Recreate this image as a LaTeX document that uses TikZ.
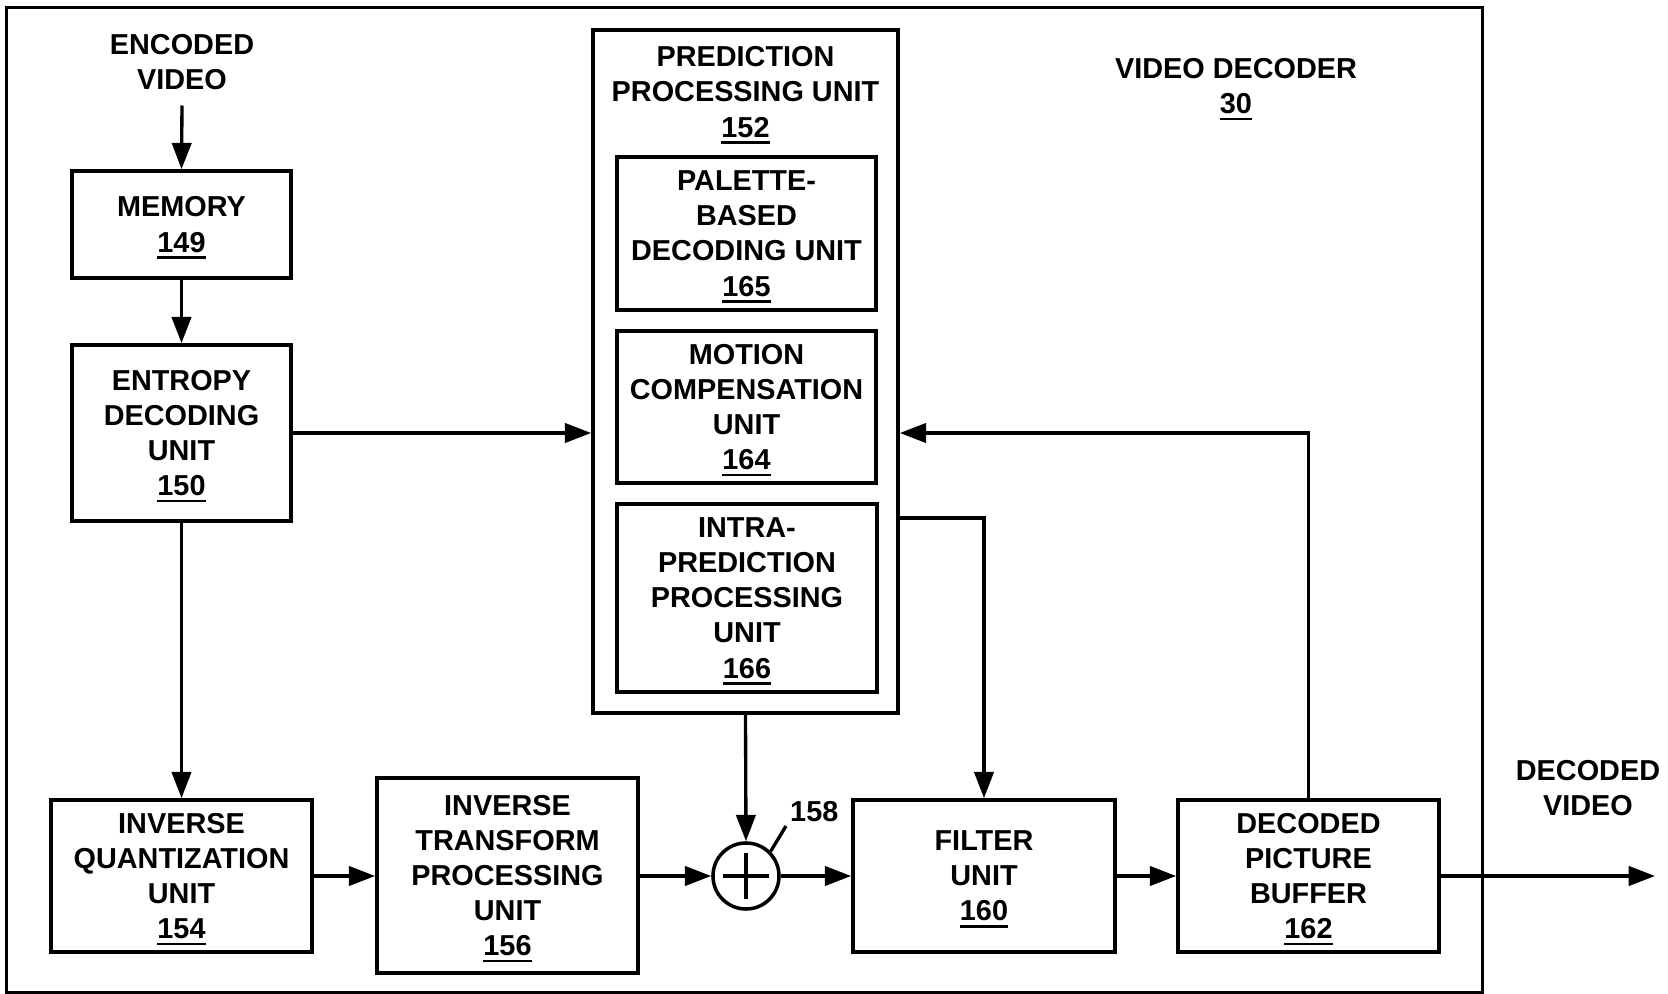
\documentclass[tikz,border=0pt]{standalone}
\usepackage{fontspec}
\setmainfont{Liberation Sans}
\usetikzlibrary{arrows.meta}
\newcommand\unum[1]{\setbox0\hbox{#1}\rlap{\smash{\rule[-1.9pt]{\wd0}{0.75pt}}}\box0}
\begin{document}
\begin{tikzpicture}[x=0.01cm,y=-0.01cm,
  every node/.style={font=\fontsize{8.2}{10}\selectfont\bfseries, align=center, inner sep=0pt},
  box/.style={draw, line width=1pt},
  conn/.style={line width=0.95pt, -{Triangle[length=7.5pt,width=5.5pt]}},
  wire/.style={line width=0.95pt}]
\useasboundingbox (0,0) rectangle (1668,994);
\node[box, minimum width=14.75cm, minimum height=9.84cm] (frame) at (744.5,500) {};
% labels
\node (enc) at (182,62) {ENCODED\\VIDEO};
\node (vd) at (1236,86) {VIDEO DECODER\\\unum{30}};
\node (dec) at (1588,788) {DECODED\\VIDEO};
% boxes
\node[box, minimum width=2.19cm, minimum height=1.07cm] (mem) at (181.5,224.5) {MEMORY\\\unum{149}};
\node[box, minimum width=2.19cm, minimum height=1.76cm] (ent) at (181.5,433) {ENTROPY\\DECODING\\UNIT\\\unum{150}};
\node[box, minimum width=2.61cm, minimum height=1.52cm] (iq) at (181.5,876) {INVERSE\\QUANTIZATION\\UNIT\\\unum{154}};
\node[box, minimum width=2.61cm, minimum height=1.95cm] (it) at (507.5,875.5) {INVERSE\\TRANSFORM\\PROCESSING\\UNIT\\\unum{156}};
\node[box, minimum width=2.62cm, minimum height=1.52cm] (filter) at (984,876) {FILTER\\UNIT\\\unum{160}};
\node[box, minimum width=2.61cm, minimum height=1.52cm] (dpb) at (1308.5,876) {DECODED\\PICTURE\\BUFFER\\\unum{162}};
\node[box, minimum width=3.05cm, minimum height=6.83cm] (pred) at (745.5,371.5) {};
\node (predt) at (745.5,92) {PREDICTION\\PROCESSING UNIT\\\unum{152}};
\node[box, minimum width=2.59cm, minimum height=1.53cm] (pal) at (746.5,233.5) {PALETTE-\\BASED\\DECODING UNIT\\\unum{165}};
\node[box, minimum width=2.59cm, minimum height=1.52cm] (mot) at (746.5,407) {MOTION\\COMPENSATION\\UNIT\\\unum{164}};
\node[box, minimum width=2.60cm, minimum height=1.88cm] (intra) at (747,598) {INTRA-\\PREDICTION\\PROCESSING\\UNIT\\\unum{166}};
\node[draw, circle, line width=1pt, minimum size=0.66cm] (add) at (746,876) {};
\draw[wire] ([xshift=-0.23cm]add.center) -- ([xshift=0.23cm]add.center);
\draw[wire] ([yshift=-0.23cm]add.center) -- ([yshift=0.23cm]add.center);
\node[anchor=south west, inner sep=1pt] (l158) at (786,826) {158};
\draw[wire] (add.45) -- (l158.south west);
\coordinate (out) at (1655,876);
% connectors
\draw[conn] ([yshift=-0.15cm]enc.south) -- (mem.north);
\draw[conn] (mem.south) -- (ent.north);
\draw[conn] (ent.east) -- (ent.east -| pred.west);
\draw[conn] (ent.south) -- (iq.north);
\draw[conn] (iq.east) -- (iq.east -| it.west);
\draw[conn] (it.east |- add.west) -- (add.west);
\draw[conn] (pred.south) -- (add.north);
\draw[conn] (add.east) -- (filter.west);
\draw[conn] (pred.east |- 0,518) -| (filter.north);
\draw[conn] (filter.east) -- (dpb.west);
\draw[conn] (dpb.north) |- (pred.east |- ent.east);
\draw[conn] (dpb.east) -- (out);
\end{tikzpicture}
\end{document}
